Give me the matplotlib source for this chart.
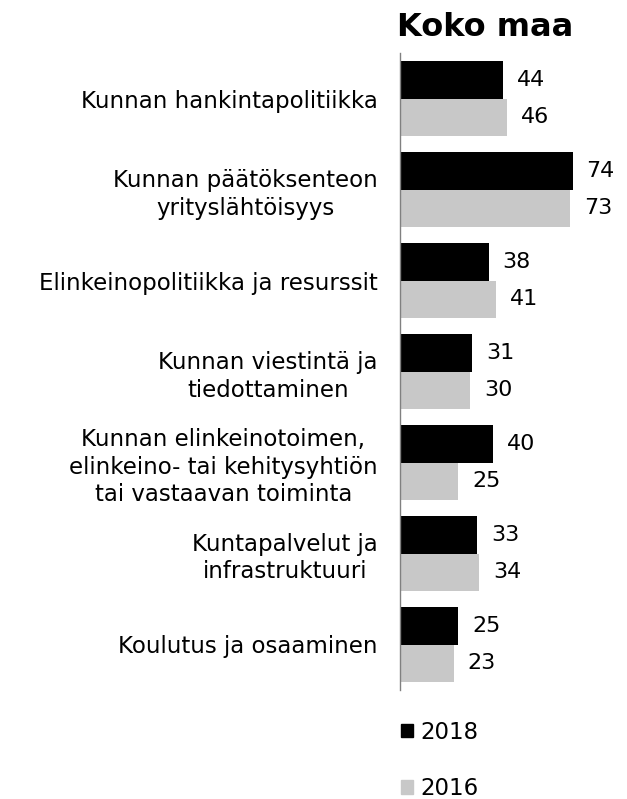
import matplotlib
matplotlib.use("Agg")
import matplotlib.pyplot as plt
import numpy as np
from matplotlib.patches import Patch

categories = [
    "Kunnan hankintapolitiikka",
    "Kunnan päätöksenteon\nyrityslähtöisyys",
    "Elinkeinopolitiikka ja resurssit",
    "Kunnan viestintä ja\ntiedottaminen",
    "Kunnan elinkeinotoimen,\nelinkeino- tai kehitysyhtiön\ntai vastaavan toiminta",
    "Kuntapalvelut ja\ninfrastruktuuri",
    "Koulutus ja osaaminen",
]
values_2018 = [44, 74, 38, 31, 40, 33, 25]
values_2016 = [46, 73, 41, 30, 25, 34, 23]
series_labels = ["2018", "2016"]
colors = ["#000000", "#c8c8c8"]
title = "Koko maa"

plt.rcParams['font.family'] = ['DejaVu Sans']

W, H = 627, 799
fig = plt.figure(figsize=(W / 100, H / 100), dpi=100)
ax_left = 400 / W
ax_bottom = 1 - 690 / H
ax_height = (690 - 53) / H
ax_width = 210 / W
ax = fig.add_axes([ax_left, ax_bottom, ax_width, ax_height])

y = np.arange(len(categories))
bh = 0.407
ax.barh(y - bh / 2, values_2018, height=bh, color=colors[0], label=series_labels[0])
ax.barh(y + bh / 2, values_2016, height=bh, color=colors[1], label=series_labels[1])

fs = 16
for i, (a, b) in enumerate(zip(values_2018, values_2016)):
    ax.annotate(str(a), (a, i - bh / 2), xytext=(10, 0), textcoords='offset points',
                va='center', ha='left', fontsize=fs)
    ax.annotate(str(b), (b, i + bh / 2), xytext=(10, 0), textcoords='offset points',
                va='center', ha='left', fontsize=fs)

ax.set_xlim(0, 90)
ax.set_ylim(len(categories) - 0.5, -0.5)
ax.set_yticks(y)
ax.set_yticklabels(categories, fontsize=16.5, multialignment='center', linespacing=1.25)
ax.tick_params(axis='y', length=0, pad=16)
ax.set_xticks([])
for s in ['top', 'right', 'bottom']:
    ax.spines[s].set_visible(False)
ax.spines['left'].set_color('#808080')
ax.spines['left'].set_linewidth(1)

fig.text(397 / W, 1 - 28 / H, title, fontsize=23, fontweight='bold', ha='left', va='center')

handles = [Patch(color=colors[0]), Patch(color=colors[1])]
fig.legend(handles, series_labels, loc='upper left', bbox_to_anchor=(380 / W, 1 - 700 / H),
           frameon=False, fontsize=16.5, handlelength=0.55, handleheight=0.55,
           handletextpad=0.3, labelspacing=1.45)

fig.savefig("out.png", dpi=100)
